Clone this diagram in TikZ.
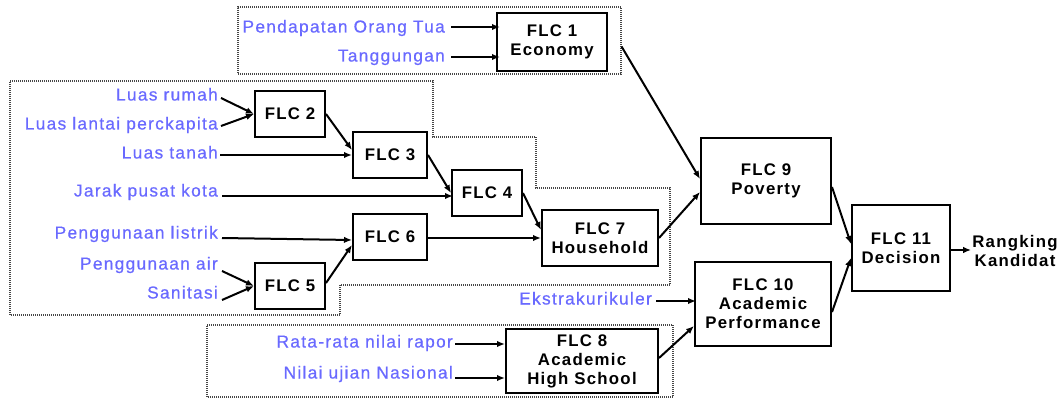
\documentclass[tikz,border=0pt]{standalone}
\usepackage{fontspec}
\setmainfont{Liberation Sans}[LetterSpace=7.5]
\newfontfamily\inputfamily{Liberation Sans}[LetterSpace=7.5, FakeBold=0.6]
\usetikzlibrary{arrows.meta}
\definecolor{inputblue}{RGB}{105,105,255}
\definecolor{groupline}{RGB}{70,70,70}
\newcommand{\boxfont}{\bfseries\fontsize{16.8}{19}\selectfont}
\newcommand{\inputfont}{\inputfamily\fontsize{17.3}{20}\selectfont}
\tikzset{
  flcbox/.style={draw, line width=2pt, align=center, font=\boxfont, inner sep=0pt},
  inlabel/.style={anchor=east, text=inputblue, font=\inputfont, inner sep=2pt,
                  text height=13pt, text depth=4pt},
  arr/.style={line width=2pt, -{Latex[length=8pt,width=6.5pt]}},
  group/.style={draw=groupline, line width=1.1pt, dash pattern=on 1pt off 1pt}
}
\begin{document}
\begin{tikzpicture}[x=1pt, y=-1pt]
\useasboundingbox (0,0) rectangle (1059,398);

% dotted groupings
\node[group, minimum width=383pt, minimum height=67pt, inner sep=0pt] (econ) at (429.5,40.5) {};
\draw[group] (10,81) -- (433,81) -- (433,137) -- (536,137) -- (536,188) -- (670,188)
  -- (670,285) -- (340,285) -- (340,315) -- (10,315) -- cycle;
\draw[group] (207,325) -- (673,325) -- (673,397) -- (207,397) -- cycle;

% fuzzy logic controllers
\node[flcbox, minimum width=110pt, minimum height=58pt] (flc1) at (552,42) {FLC 1\\Economy};
\node[flcbox, minimum width=70pt, minimum height=46pt] (flc2) at (290,114) {FLC 2};
\node[flcbox, minimum width=74pt, minimum height=46pt] (flc3) at (390,155) {FLC 3};
\node[flcbox, minimum width=70pt, minimum height=46pt] (flc4) at (487,193) {FLC 4};
\node[flcbox, minimum width=70pt, minimum height=46pt] (flc5) at (290,286) {FLC 5};
\node[flcbox, minimum width=74pt, minimum height=46pt] (flc6) at (390,237) {FLC 6};
\node[flcbox, minimum width=116pt, minimum height=56pt] (flc7) at (600,238) {FLC 7\\Household};
\node[flcbox, minimum width=152pt, minimum height=64pt] (flc8) at (582,361) {FLC 8\\Academic\\High School};
\node[flcbox, minimum width=130pt, minimum height=86pt] (flc9) at (766,181) {FLC 9\\Poverty};
\node[flcbox, minimum width=136pt, minimum height=84pt] (flc10) at (763,304) {FLC 10\\Academic\\Performance};
\node[flcbox, minimum width=98pt, minimum height=86pt] (flc11) at (901,248) {FLC 11\\Decision};
\node[align=center, font=\boxfont, inner sep=1pt] (rank) at (1015,251) {Rangking\\Kandidat};

% input variables
\node[inlabel] (pend) at (447,28) {Pendapatan Orang Tua};
\node[inlabel] (tang) at (447,57) {Tanggungan};
\node[inlabel] (rumah) at (220,96) {Luas rumah};
\node[inlabel] (lantai) at (220,125) {Luas lantai perckapita};
\node[inlabel] (tanah) at (220,154) {Luas tanah};
\node[inlabel] (jarak) at (220,192) {Jarak pusat kota};
\node[inlabel] (listrik) at (220,234) {Penggunaan listrik};
\node[inlabel] (air) at (220,265) {Penggunaan air};
\node[inlabel] (sanitasi) at (220,294) {Sanitasi};
\node[inlabel] (ekstra) at (654,300) {Ekstrakurikuler};
\node[inlabel] (rapor) at (455,343) {Rata-rata nilai rapor};
\node[inlabel] (ujian) at (455,374) {Nilai ujian Nasional};

% inputs to controllers
\draw[arr] ([xshift=4pt,yshift=1pt]pend.east) -- ([xshift=4pt,yshift=1pt]pend.east -| flc1.west);
\draw[arr] ([xshift=4pt]tang.east) -- ([xshift=4pt]tang.east -| flc1.west);
\draw[arr] ([xshift=1pt,yshift=-2pt]rumah.east) -- (flc2.west);
\draw[arr] ([xshift=1pt,yshift=-1pt]lantai.east) -- (flc2.west);
\draw[arr] ([yshift=-1pt]tanah.east) -- ([yshift=-1pt]tanah.east -| flc3.west);
\draw[arr] ([xshift=2pt,yshift=-4pt]jarak.east) -- ([xshift=2pt,yshift=-4pt]jarak.east -| flc4.west);
\draw[arr] ([xshift=2pt,yshift=-4pt]listrik.east) -- ([yshift=-3pt]flc6.west);
\draw[arr] ([xshift=2pt,yshift=-6pt]air.east) -- (flc5.west);
\draw[arr] ([xshift=2pt,yshift=-6pt]sanitasi.east) -- (flc5.west);
\draw[arr] ([xshift=2pt,yshift=-1pt]ekstra.east) -- ([xshift=2pt,yshift=-1pt]ekstra.east -| flc10.west);
\draw[arr] ([yshift=-1pt]rapor.east) -- ([yshift=-1pt]rapor.east -| flc8.west);
\draw[arr] ([yshift=-4pt]ujian.east) -- ([yshift=-4pt]ujian.east -| flc8.west);

% controller chain
\draw[arr] (flc2.east) -- ([yshift=5pt]flc3.west);
\draw[arr] (flc3.east) -- (flc4.west);
\draw[arr] (flc4.east) -- ([yshift=8pt]flc7.west);
\draw[arr] ([yshift=3pt]flc5.east) -- ([yshift=-8pt]flc6.west);
\draw[arr] (flc6.east |- flc7.west) -- (flc7.west);
\draw[arr] ([yshift=-6pt]econ.east) -- ([yshift=2pt]flc9.west);
\draw[arr] (flc7.east) -- ([yshift=-11pt]flc9.west);
\draw[arr] ([yshift=3pt]flc8.east) -- ([yshift=-22pt]flc10.west);
\draw[arr] ([yshift=-6pt]flc9.east) -- ([yshift=4pt]flc11.west);
\draw[arr] ([yshift=-8pt]flc10.east) -- ([yshift=-10pt]flc11.west);
\draw[arr] ([yshift=-2pt]flc11.east) -- ([yshift=-2pt]flc11.east -| rank.west);
\end{tikzpicture}
\end{document}
